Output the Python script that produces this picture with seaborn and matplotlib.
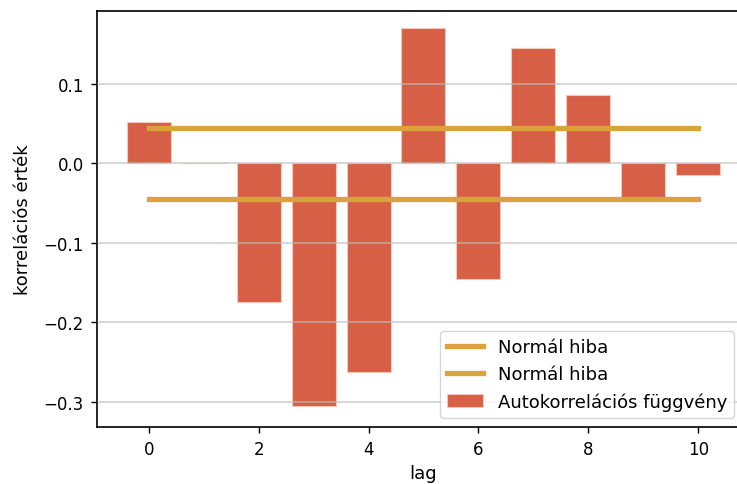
import numpy as np
import pandas as pd
import matplotlib
matplotlib.use("Agg")
import matplotlib.pyplot as plt
import seaborn as sns

# Autocorrelation values per lag
lags = [0, 1, 2, 3, 4, 5, 6, 7, 8, 9, 10]
acf_values = [0.052, 0.0, -0.175, -0.306, -0.263, 0.170, -0.145, 0.145, 0.086, -0.044, -0.015]

# Standard-error band around zero
err_x = [0, 10]
err_upper = [0.045, 0.045]
err_lower = [-0.045, -0.045]

bar_color = "#d75f45"
line_color = "#d9a23b"

plt.rcParams["font.family"] = ["DejaVu Sans"]
fig = plt.figure(figsize=(7.37, 4.85), dpi=100)
ax = fig.add_axes([0.1316, 0.1175, 0.886, 0.8577])

df = pd.DataFrame({"lag": lags, "acf": acf_values})
sns.barplot(data=df, x="lag", y="acf", native_scale=True, width=0.8,
            color=bar_color, saturation=1, edgecolor="#f3c9bd", linewidth=0.8,
            label="Autokorrelációs függvény", ax=ax, zorder=1)

sns.lineplot(x=err_x, y=err_upper, color=line_color, linewidth=3.8,
             label="Normál hiba", ax=ax, zorder=2)
sns.lineplot(x=err_x, y=err_lower, color=line_color, linewidth=3.8,
             label="Normál hiba", ax=ax, zorder=2)

ax.set_xlim(-0.94, 10.94)
ax.set_ylim(-0.332, 0.192)
ax.set_xticks([0, 2, 4, 6, 8, 10])
ax.set_yticks([-0.3, -0.2, -0.1, 0.0, 0.1])
ax.set_yticklabels(["−0.3", "−0.2", "−0.1", "0.0", "0.1"])
ax.set_axisbelow(False)
ax.yaxis.grid(True, color="#bdbdbd", linewidth=1.2, alpha=0.7, zorder=3)
ax.xaxis.grid(False)
for s in ax.spines.values():
    s.set_color("black")
    s.set_linewidth(1.2)
ax.tick_params(axis="both", labelsize=12, colors="black", length=4.5, width=1.0, pad=5)

ax.set_xlabel("lag", fontsize=13, labelpad=4)
ax.set_ylabel("korrelációs érték", fontsize=13, labelpad=8)

handles, labels = ax.get_legend_handles_labels()
lines = [h for h, l in zip(handles, labels) if l == "Normál hiba"]
bars = [h for h, l in zip(handles, labels) if l != "Normál hiba"]
ax.legend(lines + bars, ["Normál hiba", "Normál hiba", "Autokorrelációs függvény"],
          loc="lower right", fontsize=13, framealpha=0.8, edgecolor="#cccccc",
          bbox_to_anchor=(0.99, 0.0, 0, 0))

fig.savefig("out.png", dpi=100)
